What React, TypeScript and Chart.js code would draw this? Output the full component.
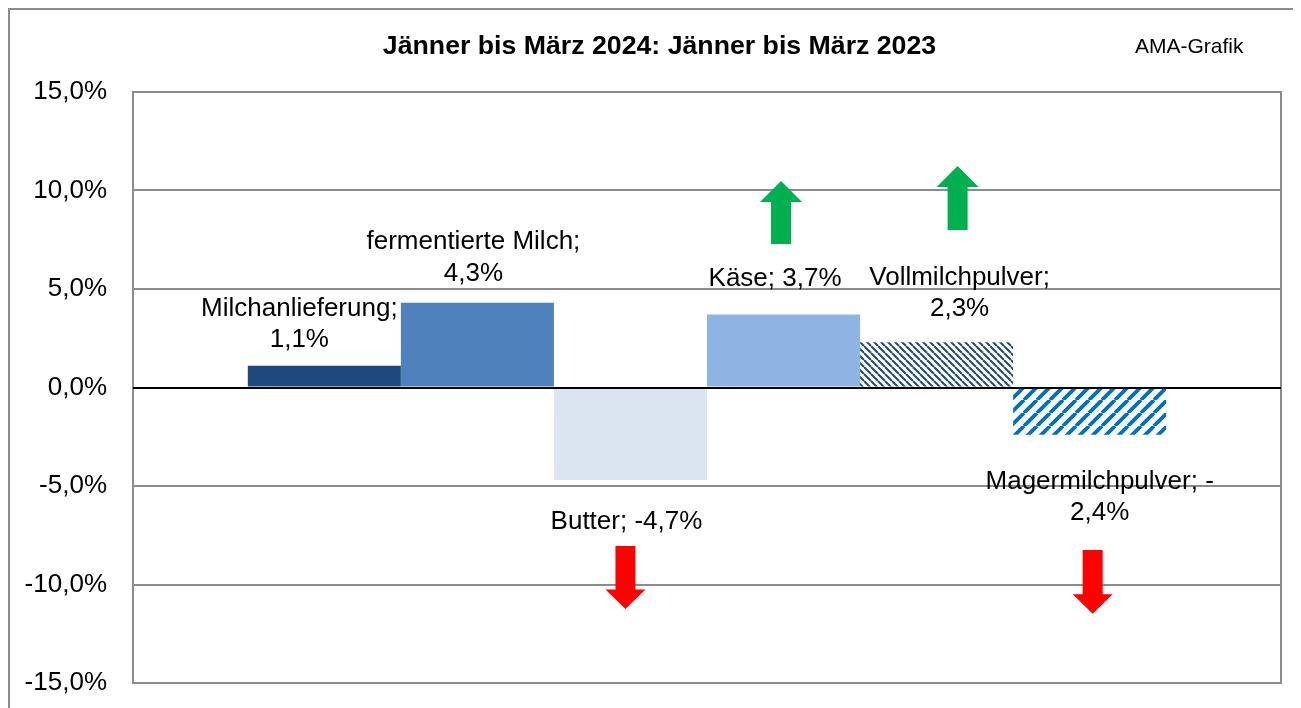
import React, { useEffect, useRef } from "react";
import { Chart, registerables } from "chart.js";

Chart.register(...registerables);

// ---------- data ----------
const categories = [
  "Milchanlieferung",
  "fermentierte Milch",
  "Butter",
  "Käse",
  "Vollmilchpulver",
  "Magermilchpulver",
];
const values = [1.1, 4.3, -4.7, 3.7, 2.3, -2.4];
const valueLabels = [
  ["Milchanlieferung;", "1,1%"],
  ["fermentierte Milch;", "4,3%"],
  ["Butter; -4,7%"],
  ["Käse; 3,7%"],
  ["Vollmilchpulver;", "2,3%"],
  ["Magermilchpulver; -", "2,4%"],
];
const yMin = -15;
const yMax = 15;
const yStep = 5;
const titleText = "Jänner bis März 2024: Jänner bis März 2023";
const sourceText = "AMA-Grafik";
// trend arrows: category index, start value, tip value
const arrowCategory = [3, 4, 2, 5];
const arrowFrom = [7.28, 8.0, -8.05, -8.25];
const arrowTo = [10.48, 11.24, -11.24, -11.49];

// ---------- styles ----------
const FONT = '"Liberation Sans", Arial, sans-serif';
const solidColors = ["#1F497D", "#4F81BD", "#DBE5F1", "#8DB4E2", null, null];
const labelDx = [-25, -4, -4, -8.5, 23, 10];
const labelDy = [-57.5, -60.5, 41.5, -35.5, -64.5, 47];
const labelLineH = 31.5;
const arrowDx = [-2.5, 21, -5, 3];
const arrowColor = ["#00B050", "#00B050", "#FF0000", "#FF0000"];

function makePattern(kind: "fine" | "wide"): CanvasPattern | string {
  const c = document.createElement("canvas");
  const s = kind === "fine" ? 7 : 13;
  c.width = s;
  c.height = s;
  const g = c.getContext("2d")!;
  g.fillStyle = "#ffffff";
  g.fillRect(0, 0, s, s);
  if (kind === "fine") {
    g.strokeStyle = "#1F497D";
    g.lineWidth = 2;
    g.beginPath();
    for (const o of [-s, 0, s]) {
      g.moveTo(o, 0);
      g.lineTo(o + s, s);
    }
    g.stroke();
  } else {
    g.strokeStyle = "#0070C0";
    g.lineWidth = 3.8;
    g.beginPath();
    for (const o of [-s, 0, s]) {
      g.moveTo(o, s);
      g.lineTo(o + s, 0);
    }
    g.stroke();
  }
  const p = g.createPattern(c, "repeat");
  return p || "#888";
}

const overlayPlugin = {
  id: "overlay",
  afterDatasetsDraw(chart: any) {
    const { ctx, chartArea: a, scales } = chart;
    const y = scales.y;
    ctx.save();
    // plot frame
    ctx.strokeStyle = "#8c8c8c";
    ctx.lineWidth = 2;
    ctx.strokeRect(a.left, a.top, a.right - a.left, a.bottom - a.top);
    // zero line
    const y0 = Math.round(y.getPixelForValue(0));
    ctx.strokeStyle = "#000000";
    ctx.lineWidth = 2;
    ctx.beginPath();
    ctx.moveTo(a.left, y0);
    ctx.lineTo(a.right, y0);
    ctx.stroke();

    // data labels
    ctx.fillStyle = "#000000";
    ctx.font = `26px ${FONT}`;
    ctx.textAlign = "center";
    ctx.textBaseline = "middle";
    valueLabels.forEach((lines, i) => {
      const el = chart.getDatasetMeta(i).data[0];
      if (!el) return;
      const x = el.x + labelDx[i];
      const yy = el.y + labelDy[i];
      lines.forEach((t, k) => ctx.fillText(t, x, yy + k * labelLineH));
    });

    // arrows
    arrowCategory.forEach((ci, i) => {
      const el = chart.getDatasetMeta(ci).data[0];
      if (!el) return;
      const cx = el.x + arrowDx[i];
      const yb = y.getPixelForValue(arrowFrom[i]);
      const yt = y.getPixelForValue(arrowTo[i]);
      const dir = yt < yb ? -1 : 1;
      const up = dir < 0;
      const hw = up ? 21 : 20;
      const hl = up ? 21 : 19.5;
      const sw = 10;
      const yh = yt - dir * hl;
      ctx.fillStyle = arrowColor[i];
      ctx.beginPath();
      ctx.moveTo(cx - sw, yb);
      ctx.lineTo(cx - sw, yh);
      ctx.lineTo(cx - hw, yh);
      ctx.lineTo(cx, yt);
      ctx.lineTo(cx + hw, yh);
      ctx.lineTo(cx + sw, yh);
      ctx.lineTo(cx + sw, yb);
      ctx.closePath();
      ctx.fill();
    });

    // title + source
    ctx.fillStyle = "#000000";
    ctx.textBaseline = "alphabetic";
    ctx.textAlign = "center";
    ctx.font = `bold 26.7px ${FONT}`;
    ctx.fillText(titleText, chart.width / 2 + 4, 44);
    ctx.textAlign = "left";
    ctx.font = `21px ${FONT}`;
    ctx.fillText(sourceText, 1125, 43);
    ctx.restore();
  },
};

export default function App() {
  const ref = useRef<HTMLCanvasElement | null>(null);

  useEffect(() => {
    if (!ref.current) return;
    const fine = makePattern("fine");
    const wide = makePattern("wide");
    const bg = solidColors.map((c, i) => (c ? c : i === 4 ? fine : wide));
    const chart = new Chart(ref.current, {
      type: "bar",
      data: {
        labels: [""],
        datasets: categories.map((name, i) => ({
          label: name,
          data: [values[i]],
          backgroundColor: bg[i] as any,
          borderWidth: 0,
          categoryPercentage: 0.8,
          barPercentage: 1.0,
        })),
      },
      options: {
        responsive: false,
        animation: false,
        devicePixelRatio: 1,
        layout: { padding: { left: 0, right: 20, top: 82, bottom: 25 } },
        plugins: {
          legend: { display: false },
          tooltip: { enabled: false },
          title: { display: false },
        },
        scales: {
          x: { display: false },
          y: {
            min: yMin,
            max: yMax,
            afterFit(axis: any) {
              axis.width = 123;
            },
            ticks: {
              stepSize: yStep,
              padding: 0,
              color: "#000000",
              font: { family: FONT, size: 26 },
              callback: (v: any) => Number(v).toFixed(1).replace(".", ",") + "%",
            },
            grid: {
              drawTicks: true,
              tickLength: 26,
              tickColor: "rgba(0,0,0,0)",
              lineWidth: 2,
              color: (c: any) => (c.tick && c.tick.value === 0 ? "#000000" : "#8c8c8c"),
            },
            border: { display: false },
          },
        },
      },
      plugins: [overlayPlugin],
    });
    return () => chart.destroy();
  }, []);

  return (
    <div
      style={{
        width: 1293,
        height: 700,
        borderLeft: "2px solid #8c8c8c",
        borderTop: "2px solid #8c8c8c",
        boxSizing: "border-box",
        background: "#fff",
      }}
    >
      <canvas ref={ref} width={1291} height={698} style={{ display: "block", width: 1291, height: 698 }} />
    </div>
  );
}
